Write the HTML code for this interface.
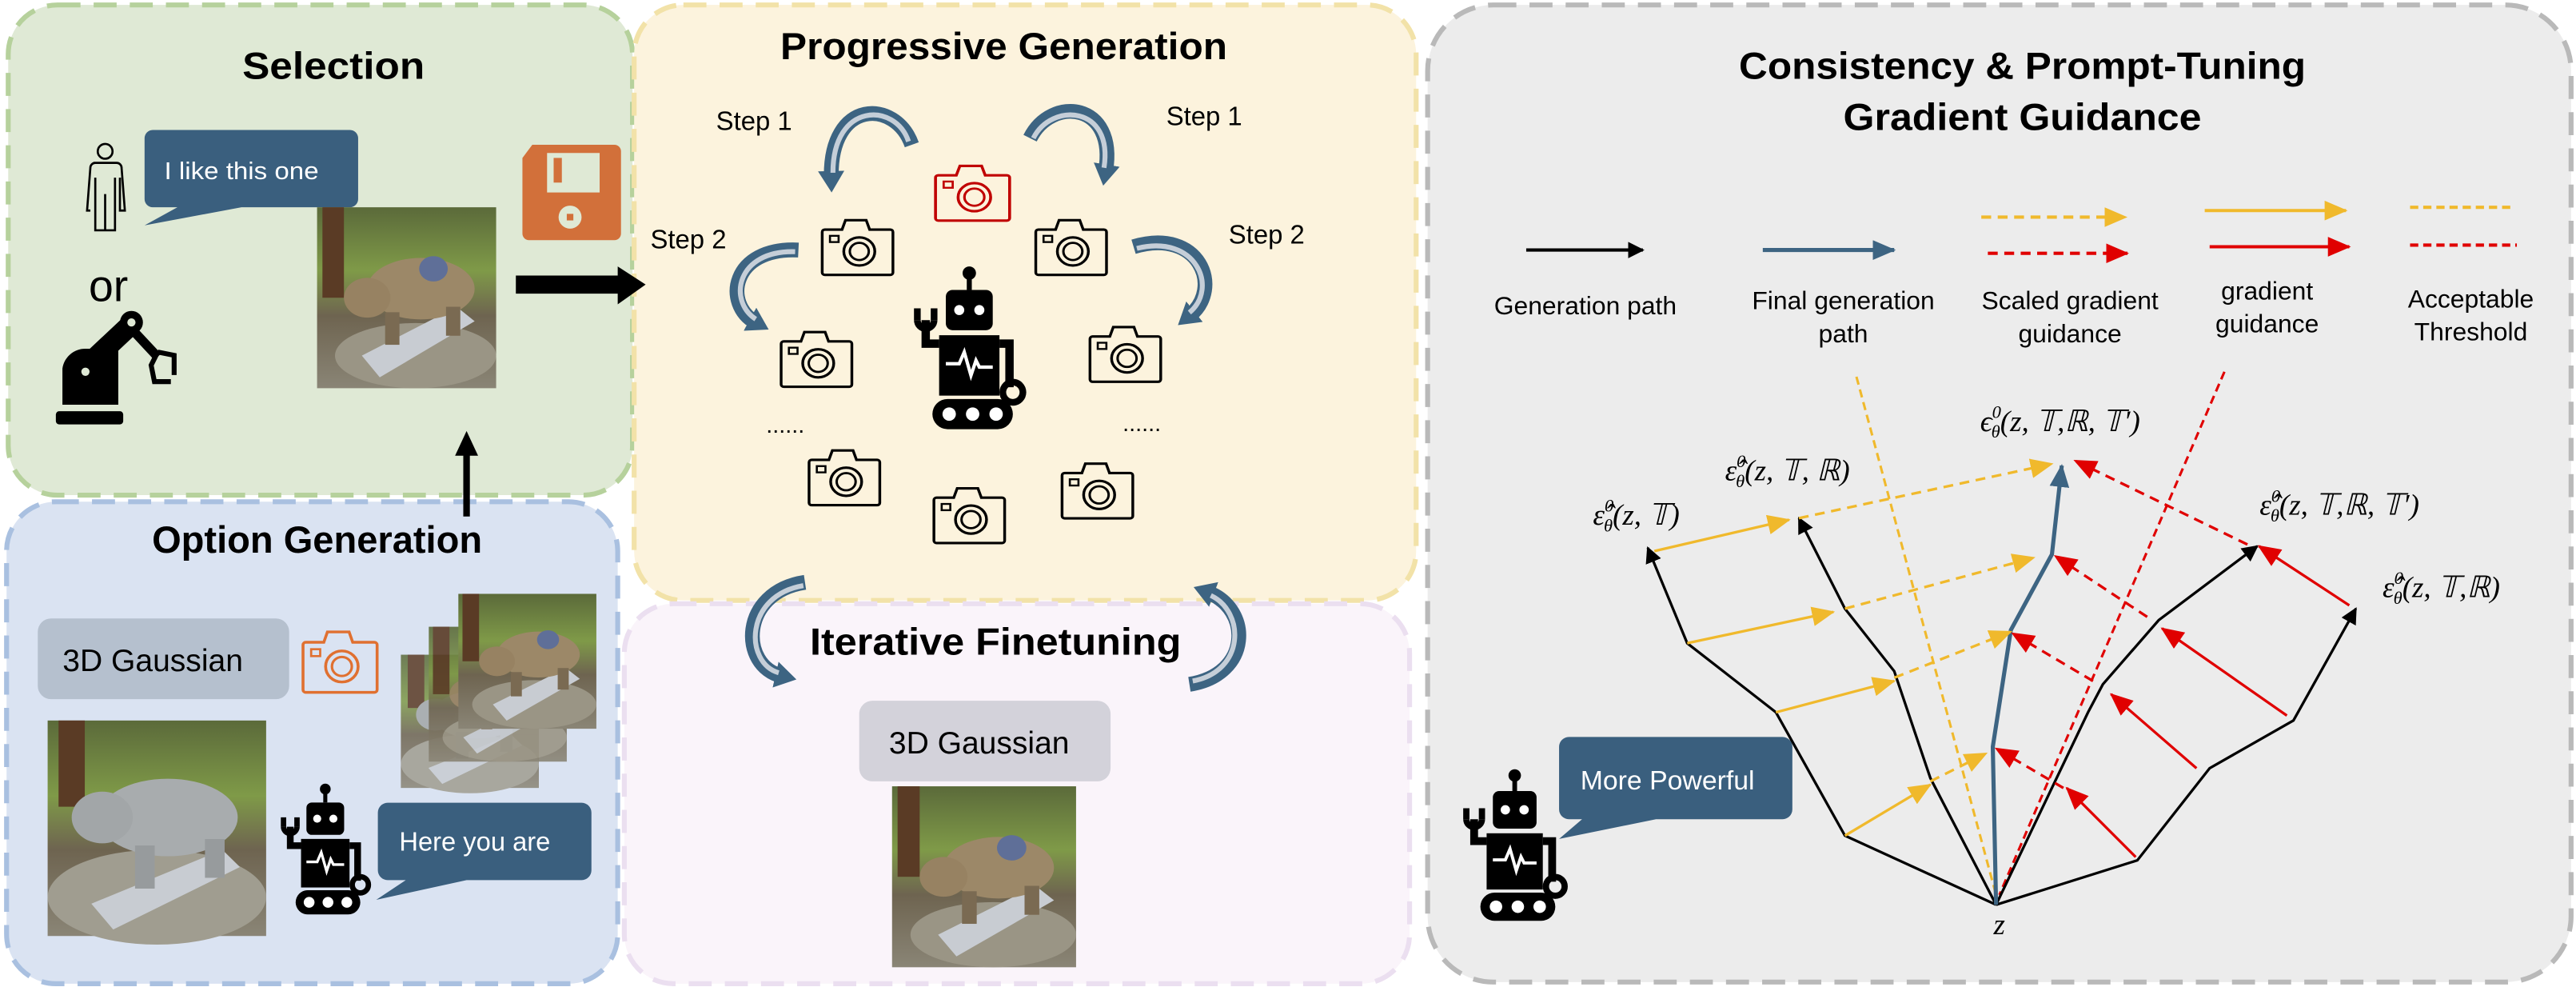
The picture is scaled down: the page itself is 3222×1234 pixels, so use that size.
<!DOCTYPE html>
<html><head><meta charset="utf-8"><style>
html,body{margin:0;padding:0;background:#fff;}
svg{display:block;}
.t{font-family:"Liberation Sans",sans-serif;}
.m{font-family:"Liberation Serif","DejaVu Serif",serif;font-style:italic;font-size:18px;}
</style></head><body>
<svg width="3222" height="1234" viewBox="0 0 1568 600" preserveAspectRatio="none" xmlns="http://www.w3.org/2000/svg">
<defs>
<g id="cam">
<path d="M-19,-11 h10 l2,-6 h12 l2,6 h12 a1.5,1.5 0 0 1 1.5,1.5 v26 a1.5,1.5 0 0 1 -1.5,1.5 h-38 a1.5,1.5 0 0 1 -1.5,-1.5 v-26 a1.5,1.5 0 0 1 1.5,-1.5z" fill="none" stroke-width="1.6"/>
<circle cx="1" cy="3" r="9" fill="none" stroke-width="1.6"/>
<circle cx="1" cy="3" r="5.5" fill="none" stroke-width="1.4"/>
<rect x="-16" y="-7" width="5" height="4" fill="none" stroke-width="1.2"/>
</g>
<g id="robot">
<circle cx="0" cy="-48" r="4"/><rect x="-1.5" y="-46" width="3" height="8"/>
<rect x="-14" y="-38" width="28" height="24" rx="4"/>
<circle cx="-6" cy="-26" r="3" fill="#fff"/><circle cx="6" cy="-26" r="3" fill="#fff"/>
<rect x="-18" y="-11" width="36" height="36"/>
<path d="M-14,6 h8 l3,-7 l4,14 l3,-9 l2,4 h8" stroke="#fff" stroke-width="2" fill="none"/>
<path d="M-18,-6 h-8 v-14" stroke="#000" stroke-width="5" fill="none"/>
<path d="M-31,-20 a5,5 0 0 0 10,0" stroke="#000" stroke-width="4" fill="none"/>
<path d="M-31,-20 v-7 M-21,-20 v-7" stroke="#000" stroke-width="4"/>
<path d="M18,-6 h6 v26" stroke="#000" stroke-width="5" fill="none"/>
<circle cx="26" cy="23" r="6" fill="none" stroke="#000" stroke-width="4"/>
<rect x="-22" y="27" width="48" height="18" rx="9"/>
<circle cx="-12" cy="36" r="4" fill="#fff"/><circle cx="2" cy="36" r="4" fill="#fff"/><circle cx="16" cy="36" r="4" fill="#fff"/>
</g>
<linearGradient id="forest" x1="0" y1="0" x2="0" y2="1">
<stop offset="0" stop-color="#5b6a3a"/><stop offset="0.35" stop-color="#7f9a48"/><stop offset="0.6" stop-color="#6e6450"/><stop offset="1" stop-color="#8a8576"/></linearGradient>
<g id="bear">
<rect x="0" y="0" width="100" height="100" fill="url(#forest)"/>
<rect x="3" y="0" width="12" height="50" fill="#5a3b25"/>
<ellipse cx="55" cy="82" rx="45" ry="18" fill="#9a9585"/>
<polygon points="25,82 78,55 88,63 35,94" fill="#c8ccd2"/>
<ellipse cx="58" cy="45" rx="30" ry="17" fill="#9c8868"/>
<ellipse cx="28" cy="50" rx="13" ry="11" fill="#978262"/>
<ellipse cx="65" cy="34" rx="8" ry="7" fill="#5f6f98"/>
<rect x="38" y="58" width="8" height="18" fill="#7a6a52"/><rect x="72" y="55" width="8" height="16" fill="#7a6a52"/>
</g>
<g id="gbear">
<rect x="0" y="0" width="100" height="100" fill="url(#forest)"/>
<rect x="5" y="0" width="12" height="40" fill="#5a3b25"/>
<ellipse cx="50" cy="82" rx="50" ry="22" fill="#a09d90"/>
<polygon points="20,85 80,60 88,68 30,97" fill="#c8ccd2"/>
<ellipse cx="55" cy="45" rx="32" ry="18" fill="#a8acae"/>
<ellipse cx="25" cy="45" rx="14" ry="12" fill="#a2a6a8"/>
<rect x="40" y="58" width="9" height="20" fill="#979b9d"/><rect x="72" y="55" width="9" height="18" fill="#979b9d"/>
</g>
<marker id="ak" markerWidth="10" markerHeight="10" refX="9" refY="5" orient="auto" markerUnits="userSpaceOnUse"><path d="M0,0 L10,5 L0,10z" fill="#000"/></marker>
<marker id="ab" markerWidth="14" markerHeight="12" refX="13" refY="6" orient="auto" markerUnits="userSpaceOnUse"><path d="M0,0 L14,6 L0,12z" fill="#3d6482"/></marker>
<marker id="ay" markerWidth="14" markerHeight="12" refX="13" refY="6" orient="auto" markerUnits="userSpaceOnUse"><path d="M0,0 L14,6 L0,12z" fill="#f0b92c"/></marker>
<marker id="ar" markerWidth="14" markerHeight="12" refX="13" refY="6" orient="auto" markerUnits="userSpaceOnUse"><path d="M0,0 L14,6 L0,12z" fill="#e00000"/></marker>
<marker id="ac" markerWidth="16" markerHeight="16" refX="4" refY="8" orient="auto" markerUnits="userSpaceOnUse"><path d="M0,0 L13,8 L0,16z" fill="#3d6482"/></marker>
</defs>

<!-- panels -->
<rect x="5" y="3" width="380" height="298" rx="30" fill="#dfe9d5" stroke="#b6d19c" stroke-width="3" stroke-dasharray="14,8"/>
<rect x="386" y="3" width="476" height="362" rx="30" fill="#fcf3dd" stroke="#f2e2a8" stroke-width="3" stroke-dasharray="14,8"/>
<rect x="380" y="367" width="478" height="231" rx="30" fill="#faf4fa" stroke="#ebdff0" stroke-width="3" stroke-dasharray="14,8"/>
<rect x="4" y="305" width="372" height="293" rx="30" fill="#dae3f2" stroke="#a9c0e0" stroke-width="3" stroke-dasharray="14,8"/>
<rect x="869" y="3" width="696" height="594" rx="40" fill="#ececec" stroke="#b9b9b9" stroke-width="3" stroke-dasharray="14,8"/>

<!-- Selection -->
<text class="t" x="203" y="48" font-size="23" font-weight="bold" text-anchor="middle" textLength="111" lengthAdjust="spacingAndGlyphs">Selection</text>
<g stroke="#000" stroke-width="1.3" fill="none">
<circle cx="64" cy="92" r="4.5"/>
<path d="M57,99 h14 a3,3 0 0 1 3,3 l2,26 h-3 v-20 M55,128 l-2,0 l2,-26 a3,3 0 0 1 3,-3 M58,108 v32 h12 v-32 M64,118 v22"/>
</g>
<path d="M93,79 h120 a5,5 0 0 1 5,5 v37 a5,5 0 0 1 -5,5 h-66 l-59,11 l20,-11 h-15 a5,5 0 0 1 -5,-5 v-37 a5,5 0 0 1 5,-5z" fill="#3a5f7e"/>
<text class="t" x="147" y="109" font-size="15" fill="#fff" text-anchor="middle" textLength="94" lengthAdjust="spacingAndGlyphs">I like this one</text>
<text class="t" x="66" y="183" font-size="27" text-anchor="middle">or</text>
<g fill="#000">
<rect x="34" y="250" width="41" height="8" rx="2"/>
<path d="M38,246 v-22 a14,14 0 0 1 14,-12 h20 v34z"/>
<path d="M44,222 l32,-30 l9,9 l-32,30z"/>
<circle cx="80" cy="196" r="7"/><circle cx="80" cy="196" r="2.5" fill="#dfe9d5"/>
<circle cx="52" cy="226" r="2.5" fill="#dfe9d5"/>
<path d="M84,200 l14,15 l-4,4 l-14,-15z"/>
<path d="M96,214 l-4,8 l2,10 h10 M96,214 l10,2 l0,12" stroke="#000" stroke-width="3" fill="none"/>
</g>
<use href="#bear" transform="translate(193,126) scale(1.09,1.1)"/>
<path d="M324,88 h50 a4,4 0 0 1 4,4 v50 a4,4 0 0 1 -4,4 h-52 a4,4 0 0 1 -4,-4 v-46z" fill="#d2703a"/>
<rect x="333" y="93" width="32" height="24" fill="#dfe9d5"/><rect x="337" y="96" width="5" height="15" fill="#d2703a"/>
<circle cx="347" cy="132" r="7" fill="#dfe9d5"/><rect x="345" y="130" width="4" height="4" fill="#d2703a"/>
<path d="M314,173 h64" stroke="#000" stroke-width="11"/><path d="M376,162 l17,11 l-17,12z" fill="#000"/>
<path d="M284,314 v-40" stroke="#000" stroke-width="4"/><path d="M277,277 l7,-15 l7,15z" fill="#000"/>

<!-- Option Generation -->
<text class="t" x="193" y="336" font-size="23" font-weight="bold" text-anchor="middle" textLength="201" lengthAdjust="spacingAndGlyphs">Option Generation</text>
<rect x="23" y="376" width="153" height="49" rx="8" fill="#b5c0ce"/>
<text class="t" x="93" y="408" font-size="19" text-anchor="middle">3D Gaussian</text>
<use href="#cam" transform="translate(207,402) scale(1.1,1.05)" stroke="#e07030"/>
<use href="#gbear" transform="translate(244,398) scale(0.84,0.81)" opacity="0.85"/>
<use href="#bear" transform="translate(261,381) scale(0.84,0.82)" opacity="0.9"/>
<use href="#bear" transform="translate(279,361) scale(0.84,0.82)"/>
<use href="#gbear" transform="translate(29,438) scale(1.33,1.31)"/>
<g transform="translate(198,519) scale(0.82)"><use href="#robot"/></g>
<path d="M236,488 h118 a6,6 0 0 1 6,6 v35 a6,6 0 0 1 -6,6 h-70 l-55,12 l18,-12 h-11 a6,6 0 0 1 -6,-6 v-35 a6,6 0 0 1 6,-6z" fill="#3a5f7e"/>
<text class="t" x="289" y="517" font-size="16" fill="#fff" text-anchor="middle" textLength="92" lengthAdjust="spacingAndGlyphs">Here you are</text>

<!-- Progressive Generation -->
<text class="t" x="611" y="36" font-size="23" font-weight="bold" text-anchor="middle" textLength="272" lengthAdjust="spacingAndGlyphs">Progressive Generation</text>
<text class="t" x="459" y="79" font-size="16" text-anchor="middle">Step 1</text>
<text class="t" x="733" y="76" font-size="16" text-anchor="middle">Step 1</text>
<text class="t" x="419" y="151" font-size="16" text-anchor="middle">Step 2</text>
<text class="t" x="771" y="148" font-size="16" text-anchor="middle">Step 2</text>
<g fill="none">
<g stroke="#3d6482" stroke-width="9">
<path d="M555,88 C545,60 505,60 506,108" marker-end="url(#ac)"/>
<path d="M627,84 C640,58 680,62 673,104" marker-end="url(#ac)"/>
<path d="M486,152 C445,150 440,185 460,196" marker-end="url(#ac)"/>
<path d="M690,150 C730,138 745,175 724,192" marker-end="url(#ac)"/>
<path d="M490,354 C450,360 450,405 476,411" marker-end="url(#ac)"/>
<path d="M724,416 C762,410 762,370 735,360" marker-end="url(#ac)"/>
</g>
<g stroke="#c5ced8" stroke-width="3">
<path d="M553,86 C545,62 507,62 507,105"/>
<path d="M629,84 C640,62 678,64 672,102"/>
<path d="M484,153 C448,152 443,183 460,194"/>
<path d="M692,151 C728,142 742,175 724,190"/>
<path d="M489,356 C453,362 453,403 474,409"/>
<path d="M726,414 C758,408 758,372 737,362"/>
</g>
</g>
<use href="#cam" transform="translate(592,117) scale(1.1,0.95)" stroke="#c00000"/>
<g stroke="#000">
<use href="#cam" transform="translate(522,150) scale(1.05,0.95)"/>
<use href="#cam" transform="translate(652,150) scale(1.05,0.95)"/>
<use href="#cam" transform="translate(497,218) scale(1.05,0.95)"/>
<use href="#cam" transform="translate(685,215) scale(1.05,0.95)"/>
<use href="#cam" transform="translate(514,290) scale(1.05,0.95)"/>
<use href="#cam" transform="translate(590,313) scale(1.05,0.95)"/>
<use href="#cam" transform="translate(668,298) scale(1.05,0.95)"/>
</g>
<g transform="translate(590,215) scale(1.02)"><use href="#robot"/></g>
<text class="t" x="478" y="263" font-size="14" text-anchor="middle">......</text>
<text class="t" x="695" y="262" font-size="14" text-anchor="middle">......</text>

<!-- Iterative Finetuning -->
<text class="t" x="606" y="398" font-size="23" font-weight="bold" text-anchor="middle" textLength="226" lengthAdjust="spacingAndGlyphs">Iterative Finetuning</text>
<rect x="523" y="426" width="153" height="49" rx="8" fill="#d3d2da"/>
<text class="t" x="596" y="458" font-size="19" text-anchor="middle">3D Gaussian</text>
<use href="#bear" transform="translate(543,478) scale(1.12,1.1)"/>

<!-- Right panel -->
<text class="t" x="1231" y="48" font-size="23" font-weight="bold" text-anchor="middle" textLength="345" lengthAdjust="spacingAndGlyphs">Consistency &amp; Prompt-Tuning</text>
<text class="t" x="1231" y="79" font-size="23" font-weight="bold" text-anchor="middle" textLength="218" lengthAdjust="spacingAndGlyphs">Gradient Guidance</text>
<g stroke-width="2" fill="none">
<path d="M929,152 h71" stroke="#000" marker-end="url(#ak)"/>
<path d="M1073,152 h80" stroke="#3d6482" stroke-width="2.5" marker-end="url(#ab)"/>
<path d="M1206,132 h88" stroke="#f0b92c" stroke-dasharray="6,4" marker-end="url(#ay)"/>
<path d="M1210,154 h85" stroke="#e00000" stroke-dasharray="6,4" marker-end="url(#ar)"/>
<path d="M1342,128 h86" stroke="#f0b92c" marker-end="url(#ay)"/>
<path d="M1345,150 h85" stroke="#e00000" marker-end="url(#ar)"/>
<path d="M1467,126 h61" stroke="#f0b92c" stroke-dasharray="5,3"/>
<path d="M1467,149 h65" stroke="#e00000" stroke-dasharray="5,3"/>
</g>
<g class="t" font-size="15.5" text-anchor="middle">
<text x="965" y="191">Generation path</text>
<text x="1122" y="188">Final generation</text><text x="1122" y="208">path</text>
<text x="1260" y="188">Scaled gradient</text><text x="1260" y="208">guidance</text>
<text x="1380" y="182">gradient</text><text x="1380" y="202">guidance</text>
<text x="1504" y="187">Acceptable</text><text x="1504" y="207">Threshold</text>
</g>
<path d="M1130,229 L1215,544" stroke="#f0b92c" stroke-width="1.5" stroke-dasharray="5,3"/>
<path d="M1354,226 L1217,544" stroke="#e00000" stroke-width="1.5" stroke-dasharray="5,3"/>
<g fill="none" stroke="#000" stroke-width="1.6" marker-end="url(#ak)">
<path d="M1215,550 L1123,508 L1081,433 L1027,391 L1003,333"/>
<path d="M1215,550 L1175,473 L1153,408 L1123,370 L1095,315"/>
<path d="M1215,550 L1271,433 L1280,416 L1314,377 L1374,332"/>
<path d="M1215,550 L1301,523 L1345,467 L1396,438 L1434,370"/>
</g>
<path d="M1215,550 L1213,454 L1224,383 L1249,337 L1255,283" fill="none" stroke="#3d6482" stroke-width="2.5" marker-end="url(#ab)"/>
<g fill="none" stroke="#f0b92c" stroke-width="1.6" marker-end="url(#ay)">
<path d="M1007,335 L1089,316"/><path d="M1027,391 L1116,372"/><path d="M1081,433 L1153,414"/><path d="M1123,508 L1175,477"/>
</g>
<g fill="none" stroke="#f0b92c" stroke-width="1.6" stroke-dasharray="6,4" marker-end="url(#ay)">
<path d="M1095,315 L1249,282"/><path d="M1123,370 L1238,339"/><path d="M1153,412 L1224,384"/><path d="M1175,475 L1209,458"/>
</g>
<g fill="none" stroke="#e00000" stroke-width="1.6" marker-end="url(#ar)">
<path d="M1430,368 L1375,332"/><path d="M1392,435 L1316,382"/><path d="M1337,467 L1285,422"/><path d="M1300,521 L1258,479"/>
</g>
<g fill="none" stroke="#e00000" stroke-width="1.6" stroke-dasharray="6,4" marker-end="url(#ar)">
<path d="M1368,331 L1263,280"/><path d="M1307,375 L1251,338"/><path d="M1274,414 L1225,385"/><path d="M1256,479 L1215,455"/>
</g>
<text class="m" x="1217" y="568" text-anchor="middle" font-size="20">z</text>
<text class="m" x="996" y="319" text-anchor="middle">ε̂<tspan font-size="11" dy="-8">0</tspan><tspan font-size="11" dx="-6" dy="12">θ</tspan><tspan dy="-4">(z, 𝕋)</tspan></text>
<text class="m" x="1088" y="292" text-anchor="middle">ε̂<tspan font-size="11" dy="-8">0</tspan><tspan font-size="11" dx="-6" dy="12">θ</tspan><tspan dy="-4">(z, 𝕋, ℝ)</tspan></text>
<text class="m" x="1254" y="262" text-anchor="middle">ϵ<tspan font-size="11" dy="-8">0</tspan><tspan font-size="11" dx="-6" dy="12">θ</tspan><tspan dy="-4">(z, 𝕋,ℝ, 𝕋′)</tspan></text>
<text class="m" x="1424" y="313" text-anchor="middle">ε̂<tspan font-size="11" dy="-8">0</tspan><tspan font-size="11" dx="-6" dy="12">θ</tspan><tspan dy="-4">(z, 𝕋,ℝ, 𝕋′)</tspan></text>
<text class="m" x="1486" y="363" text-anchor="middle">ε̂<tspan font-size="11" dy="-8">0</tspan><tspan font-size="11" dx="-6" dy="12">θ</tspan><tspan dy="-4">(z, 𝕋,ℝ)</tspan></text>
<g transform="translate(922,517) scale(0.95)"><use href="#robot"/></g>
<path d="M955,448 h130 a6,6 0 0 1 6,6 v38 a6,6 0 0 1 -6,6 h-77 l-59,12 l14,-12 h-8 a6,6 0 0 1 -6,-6 v-38 a6,6 0 0 1 6,-6z" fill="#3a5f7e"/>
<text class="t" x="1015" y="480" font-size="16" fill="#fff" text-anchor="middle" textLength="106" lengthAdjust="spacingAndGlyphs">More Powerful</text>
</svg>
</body></html>
